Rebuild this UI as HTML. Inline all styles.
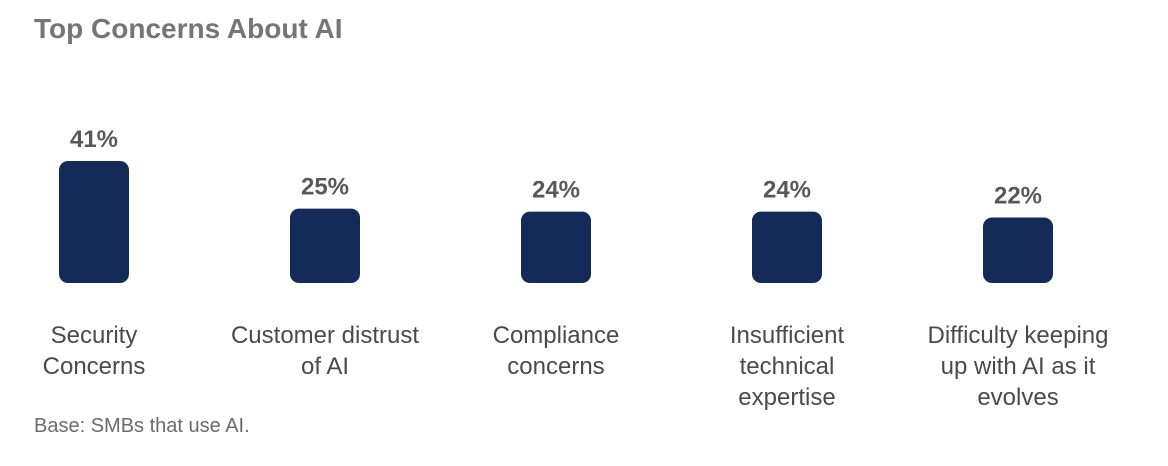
<!DOCTYPE html>
<html><head><meta charset="utf-8"><style>
body{margin:0;background:#fff;width:1168px;height:466px;overflow:hidden}
svg{display:block;font-family:"Liberation Sans",sans-serif}
</style></head><body>
<svg id="chart" width="1168" height="466" viewBox="0 0 1168 466">
<text x="34" y="38" font-size="28" font-weight="bold" fill="#757478">Top Concerns About AI</text>
<g id="bars"></g>
<text x="34" y="432" font-size="20" fill="#6b6a6e">Base: SMBs that use AI.</text>
</svg>
<script>
const categories=[["Security","Concerns"],["Customer distrust","of AI"],["Compliance","concerns"],["Insufficient","technical","expertise"],["Difficulty keeping","up with AI as it","evolves"]];
const values=[41,25,24,24,22];
const valueLabels=["41%","25%","24%","24%","22%"];
const NS="http://www.w3.org/2000/svg";
const g=document.getElementById('bars');
const x0=94,step=231,barW=70,baseY=283,pxPer=122/41;
function xScale(i){return x0+i*step;}
function yScale(v){return baseY-v*pxPer;}
values.forEach((v,i)=>{
  const cx=xScale(i),top=yScale(v);
  const r=document.createElementNS(NS,'rect');
  
  
  r.setAttribute('x',cx-barW/2);r.setAttribute('y',top);
  r.setAttribute('width',barW);r.setAttribute('height',baseY-top);
  r.setAttribute('rx',9);r.setAttribute('fill','#142b5a');
  g.appendChild(r);
  const t=document.createElementNS(NS,'text');
  
  
  t.setAttribute('x',cx);t.setAttribute('y',top-14);
  t.setAttribute('text-anchor','middle');t.setAttribute('font-size','24');
  t.setAttribute('font-weight','bold');t.setAttribute('fill','#58575b');
  t.textContent=valueLabels[i];g.appendChild(t);
  const c=document.createElementNS(NS,'text');
  
  
  c.setAttribute('text-anchor','middle');c.setAttribute('font-size','24');
  c.setAttribute('fill','#4a494d');
  categories[i].forEach((line,j)=>{
    const s=document.createElementNS(NS,'tspan');
    s.setAttribute('x',cx);s.setAttribute('y',343+j*31);
    s.textContent=line;c.appendChild(s);
  });
  g.appendChild(c);
});
</script>
</body></html>
